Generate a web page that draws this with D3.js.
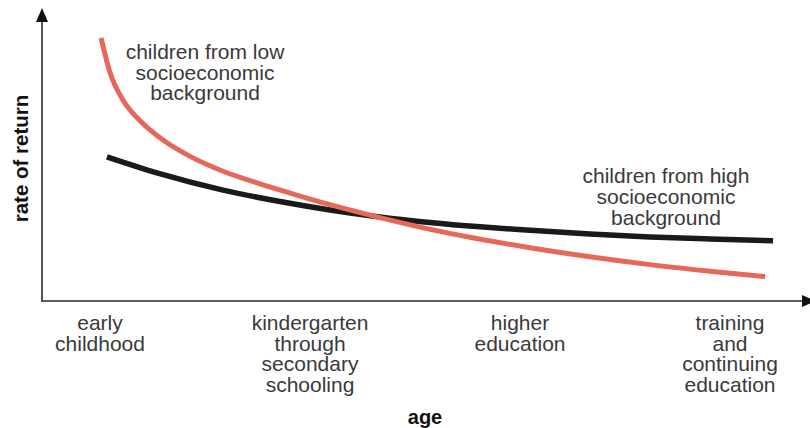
<!DOCTYPE html>
<html>
<head>
<meta charset="utf-8">
<script src="https://cdn.jsdelivr.net/npm/d3@7"></script>
<style>
  html, body { margin: 0; padding: 0; background: #fff; }
  svg { display: block; }
  text { font-family: "Liberation Sans", Arial, Helvetica, sans-serif; }
</style>
</head>
<body>
<svg id="chart" width="810" height="428"></svg>
<script>
// ---- data (x: stage index 0..3, y: relative rate of return 0..100) ----
const stageLabels = [
  ["early", "childhood"],
  ["kindergarten", "through", "secondary", "schooling"],
  ["higher", "education"],
  ["training", "and", "continuing", "education"]
];
const stagePositions = [0, 1, 2, 3];

const lowX = [0.005, 0.048, 0.11, 0.19, 0.30, 0.429, 0.586, 0.748, 0.905, 1.095, 1.286, 1.524, 1.762, 2.048, 2.333, 2.619, 2.905, 3.167];
const lowY = [90.4, 78.4, 69.0, 62.0, 55.3, 49.7, 44.6, 40.6, 37.1, 33.1, 29.5, 25.4, 21.9, 18.3, 15.2, 12.5, 10.2, 8.4];

const highX = [0.033, 0.271, 0.586, 0.857, 1.095, 1.333, 1.571, 1.81, 2.048, 2.333, 2.619, 2.905, 3.205];
const highY = [49.5, 44.0, 38.1, 34.2, 31.3, 28.9, 27.0, 25.5, 24.3, 23.0, 22.0, 21.3, 20.7];

const lowLabel = ["children from low", "socioeconomic", "background"];
const highLabel = ["children from high", "socioeconomic", "background"];
const lowLabelAt = [0.5, 83.2];
const highLabelAt = [2.695, 40.4];

const xTitle = "age";
const yTitle = "rate of return";

// ---- layout ----
const svg = d3.select("#chart");
const originX = 42, originY = 301;
const x = d3.scaleLinear().domain([0, 3]).range([100, 730]);
const y = d3.scaleLinear().domain([0, 100]).range([originY, 10]);

const textColor = "#3a3a3a";
const fontSize = 21;
const lineH = 20.7;

// axes
const axisG = svg.append("g");
axisG.append("line")
  .attr("x1", originX).attr("y1", originY + 0.5)
  .attr("x2", originX).attr("y2", 20)
  .attr("stroke", "#2a2a2a").attr("stroke-width", 1.6);
axisG.append("line")
  .attr("x1", originX - 0.8).attr("y1", originY)
  .attr("x2", 805).attr("y2", originY)
  .attr("stroke", "#2a2a2a").attr("stroke-width", 1.6);
// arrowheads
axisG.append("path")
  .attr("d", `M${originX},8 L${originX - 6},22 L${originX + 6},22 Z`)
  .attr("fill", "#111");
axisG.append("path")
  .attr("d", `M816,${originY} L802,${originY - 6} L802,${originY + 6} Z`)
  .attr("fill", "#111");

// lines
const line = d3.line()
  .x(d => x(d[0]))
  .y(d => y(d[1]))
  .curve(d3.curveMonotoneX);

svg.append("path")
  .datum(highX.map((v, i) => [v, highY[i]]))
  .attr("d", line)
  .attr("fill", "none")
  .attr("stroke", "#1b1a1a")
  .attr("stroke-width", 5.5)
  .attr("stroke-linecap", "butt");

svg.append("path")
  .datum(lowX.map((v, i) => [v, lowY[i]]))
  .attr("d", line)
  .attr("fill", "none")
  .attr("stroke", "#e6685a")
  .attr("stroke-width", 5)
  .attr("stroke-linecap", "butt");

// multi-line text helper
function multiText(lines, cx, baseline, opts = {}) {
  const t = svg.append("text")
    .attr("x", cx).attr("y", baseline)
    .attr("text-anchor", "middle")
    .attr("fill", textColor)
    .attr("font-size", opts.size || fontSize)
    .attr("font-weight", opts.weight || "normal");
  lines.forEach((l, i) => {
    t.append("tspan").attr("x", cx).attr("y", baseline + i * lineH).text(l);
  });
  return t;
}

// stage labels (x axis categories)
stagePositions.forEach((p, i) => {
  multiText(stageLabels[i], x(p), 330);
});

// series labels
multiText(lowLabel, x(lowLabelAt[0]), y(lowLabelAt[1]));
multiText(highLabel, x(highLabelAt[0]), y(highLabelAt[1]));

// axis titles
svg.append("text")
  .attr("x", 425).attr("y", 424)
  .attr("text-anchor", "middle")
  .attr("font-size", 20).attr("font-weight", "bold")
  .attr("fill", "#111")
  .text(xTitle);

svg.append("text")
  .attr("transform", "translate(28,158.5) rotate(-90)")
  .attr("text-anchor", "middle")
  .attr("font-size", 20.5).attr("font-weight", "bold")
  .attr("fill", "#111")
  .text(yTitle);
</script>
</body>
</html>
